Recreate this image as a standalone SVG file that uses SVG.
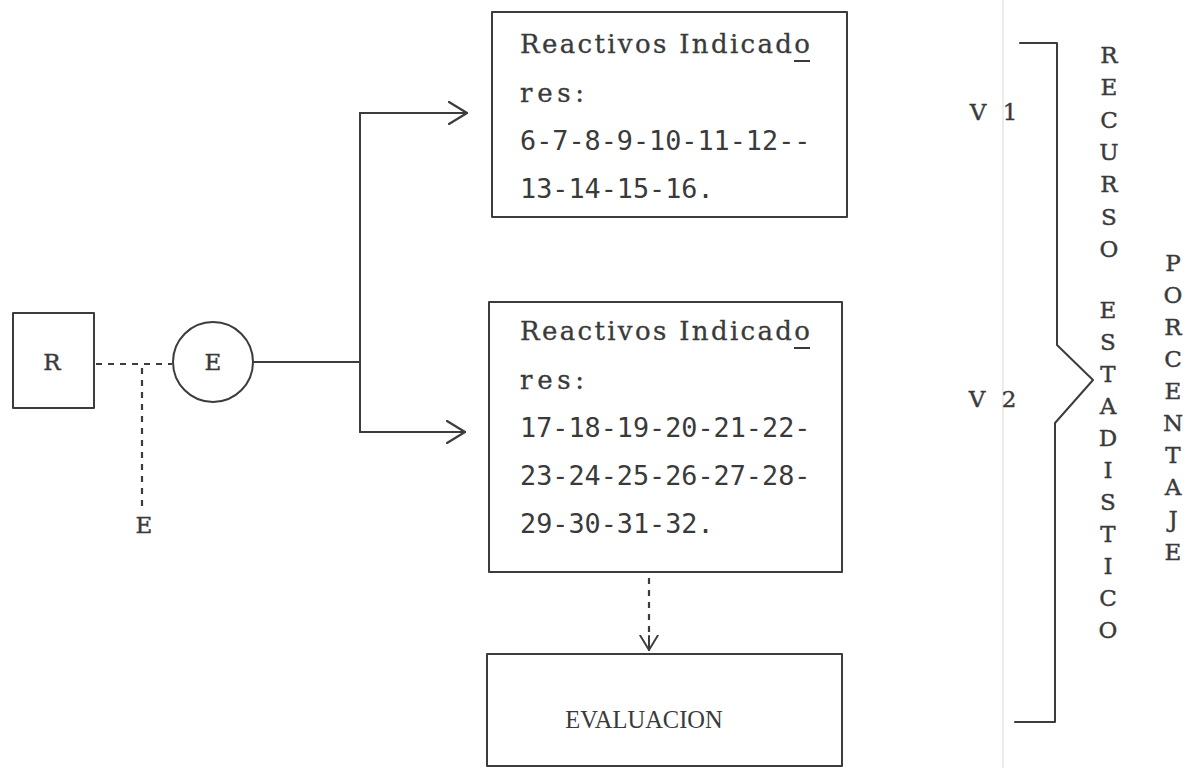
<svg xmlns="http://www.w3.org/2000/svg" width="1192" height="768" viewBox="0 0 1192 768">
<defs>
<style>
.ln{fill:none;stroke:#3c3c3c;stroke-width:2;stroke-linecap:round;stroke-linejoin:round}
.dash{fill:none;stroke:#3c3c3c;stroke-width:2.2;stroke-dasharray:6 6}
.t{font-family:"DejaVu Serif","Liberation Serif",serif;font-size:26px;fill:#3a3a3a;stroke:#3a3a3a;stroke-width:0.3}
.d{font-family:"DejaVu Sans Mono","Liberation Mono",monospace;font-size:26.8px;fill:#3a3a3a}
.v{font-family:"DejaVu Serif","Liberation Serif",serif;font-size:23px;fill:#3a3a3a;stroke:#3a3a3a;stroke-width:0.4;text-anchor:middle}
.ev{font-family:"Liberation Serif","Times New Roman",serif;font-size:24.5px;fill:#3a3a3a;text-anchor:middle}
</style>
<marker id="open" viewBox="0 0 20 24" refX="19" refY="12" markerWidth="20" markerHeight="24" markerUnits="userSpaceOnUse" orient="auto">
<path d="M1,1 L19,12 L1,23" fill="none" stroke="#3c3c3c" stroke-width="2.2" stroke-linecap="round" stroke-linejoin="round"/>
</marker>
<marker id="openS" viewBox="0 0 20 24" refX="19" refY="12" markerWidth="16" markerHeight="20" markerUnits="userSpaceOnUse" orient="auto">
<path d="M1,1 L19,12 L1,23" fill="none" stroke="#3c3c3c" stroke-width="2.4" stroke-linecap="round" stroke-linejoin="round"/>
</marker>
</defs>
<rect width="1192" height="768" fill="#ffffff"/>
<line x1="1003" y1="0" x2="1003" y2="768" stroke="#ececec" stroke-width="2"/>

<g id="connectors">
<path class="dash" d="M96,364 H172"/>
<path class="dash" d="M142,368 V510"/>
<path class="ln" d="M253,362 H360"/>
<path class="ln" d="M360,432 V113"/>
<path class="ln" d="M360,113 H467" marker-end="url(#open)"/>
<path class="ln" d="M360,432 H465" marker-end="url(#open)"/>
<path class="dash" d="M649,578 V638"/>
<path class="ln" d="M649,636 V650" marker-end="url(#openS)"/>
</g>

<g id="node-R">
<rect class="ln" x="13" y="313" width="81" height="95"/>
<text class="v" x="52" y="370">R</text>
</g>

<g id="node-E-circle">
<circle class="ln" cx="213" cy="362" r="40"/>
<text class="v" x="213" y="370">E</text>
</g>

<g id="label-E">
<text class="v" x="144" y="533">E</text>
</g>

<g id="node-reactivos-1">
<rect class="ln" x="492" y="12" width="355" height="205"/>
<text class="t" x="520" y="53" textLength="290" lengthAdjust="spacing">Reactivos Indicado</text>
<line x1="794" y1="61" x2="810" y2="61" stroke="#3a3a3a" stroke-width="2"/>
<text class="t" x="520" y="102" textLength="64" lengthAdjust="spacing">res:</text>
<text class="d" x="520" y="150">6-7-8-9-10-11-12--</text>
<text class="d" x="520" y="198">13-14-15-16.</text>
</g>

<g id="node-reactivos-2">
<rect class="ln" x="489" y="302" width="353" height="270"/>
<text class="t" x="520" y="340" textLength="290" lengthAdjust="spacing">Reactivos Indicado</text>
<line x1="794" y1="348" x2="810" y2="348" stroke="#3a3a3a" stroke-width="2"/>
<text class="t" x="520" y="389" textLength="64" lengthAdjust="spacing">res:</text>
<text class="d" x="520" y="437">17-18-19-20-21-22-</text>
<text class="d" x="520" y="485">23-24-25-26-27-28-</text>
<text class="d" x="520" y="533">29-30-31-32.</text>
</g>

<g id="node-evaluacion">
<rect class="ln" x="487" y="654" width="355" height="112"/>
<text class="ev" x="644" y="728">EVALUACION</text>
</g>

<g id="labels-V">
<text class="v" x="978" y="120">V</text>
<text class="v" x="1010" y="120">1</text>
<text class="v" x="977" y="407">V</text>
<text class="v" x="1009" y="407">2</text>
</g>

<g id="bracket">
<path class="ln" d="M1020,43 H1057 V345 L1093,380 L1055,423 V722 H1015"/>
</g>

<g id="recurso-estadistico">
<text class="v" x="1109" y="63">R</text>
<text class="v" x="1109" y="95">E</text>
<text class="v" x="1109" y="128">C</text>
<text class="v" x="1109" y="160">U</text>
<text class="v" x="1109" y="192">R</text>
<text class="v" x="1109" y="225">S</text>
<text class="v" x="1109" y="257">O</text>
<text class="v" x="1108" y="318">E</text>
<text class="v" x="1108" y="350">S</text>
<text class="v" x="1108" y="382">T</text>
<text class="v" x="1108" y="414">A</text>
<text class="v" x="1108" y="446">D</text>
<text class="v" x="1108" y="478">I</text>
<text class="v" x="1108" y="510">S</text>
<text class="v" x="1108" y="542">T</text>
<text class="v" x="1108" y="574">I</text>
<text class="v" x="1108" y="606">C</text>
<text class="v" x="1108" y="638">O</text>
</g>

<g id="porcentaje">
<text class="v" x="1173" y="271">P</text>
<text class="v" x="1173" y="303">O</text>
<text class="v" x="1173" y="335">R</text>
<text class="v" x="1173" y="367">C</text>
<text class="v" x="1173" y="399">E</text>
<text class="v" x="1173" y="431">N</text>
<text class="v" x="1173" y="463">T</text>
<text class="v" x="1173" y="495">A</text>
<text class="v" x="1173" y="527">J</text>
<text class="v" x="1173" y="560">E</text>
</g>
</svg>
